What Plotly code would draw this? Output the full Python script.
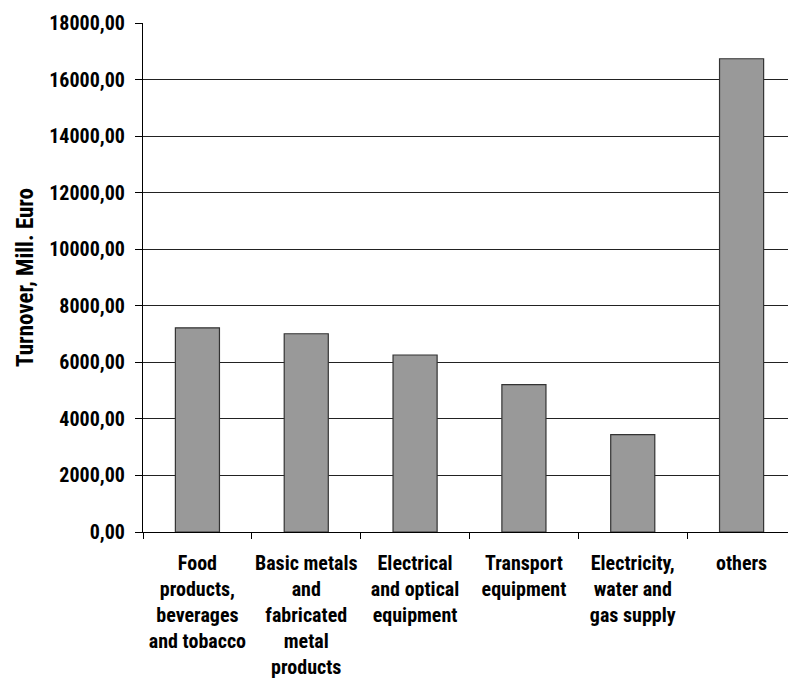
import plotly.graph_objects as go

categories = [
    "Food<br>products,<br>beverages<br>and tobacco",
    "Basic metals<br>and<br>fabricated<br>metal<br>products",
    "Electrical<br>and optical<br>equipment",
    "Transport<br>equipment",
    "Electricity,<br>water and<br>gas supply",
    "others",
]
turnover = [7220, 7010, 6260, 5210, 3440, 16735]
y_ticks = [0, 2000, 4000, 6000, 8000, 10000, 12000, 14000, 16000, 18000]

FONT = "Roboto Condensed, Open Sans Condensed, Liberation Sans, sans-serif"

fig = go.Figure(
    go.Bar(
        x=categories,
        y=turnover,
        marker=dict(color="#999999", line=dict(color="#333333", width=1.2)),
    )
)

# the page body adds an 8px offset, so the figure is 8px smaller than the window
fig.update_layout(
    width=788,
    height=670,
    margin=dict(l=135, r=0, t=15, b=146),
    plot_bgcolor="white",
    paper_bgcolor="white",
    bargap=0.595,
    separators=",.",
    showlegend=False,
    font=dict(family=FONT, color="black"),
)

fig.update_xaxes(
    automargin=False,
    showline=True,
    linecolor="black",
    linewidth=1.2,
    ticks="outside",
    tickson="boundaries",
    ticklen=6,
    tickcolor="black",
    tickangle=0,
    ticklabelstandoff=13,
    tickfont=dict(family=FONT, size=20, color="black", weight="bold"),
    showgrid=False,
)

fig.update_yaxes(
    automargin=False,
    range=[0, 18000],
    tickvals=y_ticks,
    tickformat=".2f",
    showline=True,
    linecolor="black",
    linewidth=1.2,
    ticks="outside",
    ticklen=7,
    tickcolor="black",
    ticklabelstandoff=6,
    showgrid=True,
    gridcolor="#222222",
    gridwidth=1,
    zeroline=False,
    tickfont=dict(family=FONT, size=20, color="black", weight="bold"),
    title=dict(
        text="Turnover, Mill. Euro",
        font=dict(family=FONT, size=23, color="black", weight="bold"),
        standoff=9,
    ),
)

fig.write_html("out.html")
